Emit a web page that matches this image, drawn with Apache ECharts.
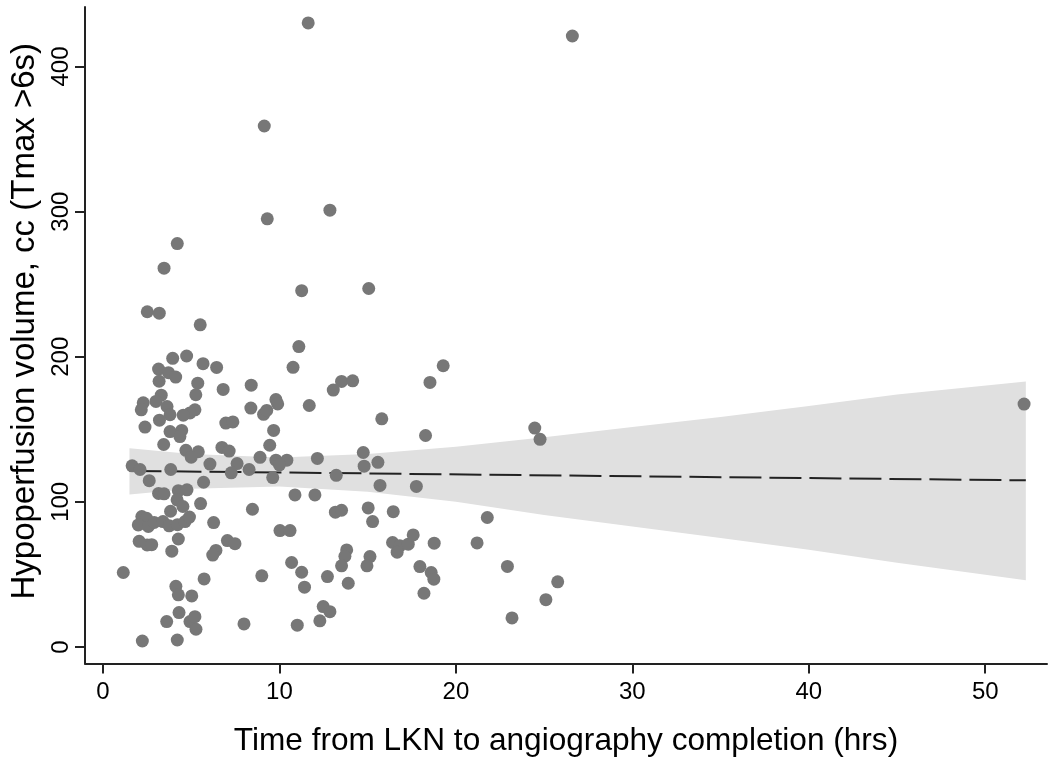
<!DOCTYPE html>
<html>
<head>
<meta charset="utf-8">
<script src="https://cdn.jsdelivr.net/npm/echarts@6/dist/echarts.min.js"></script>
<style>
  html, body { margin: 0; padding: 0; background: #fff; }
  #chart { width: 1050px; height: 765px; }
</style>
</head>
<body>
<div id="chart"></div>
<script>
// Scatter points: time from LKN (hrs) and hypoperfusion volume (cc)
const timeHrs = [
  11.63, 26.6, 9.14, 9.31, 12.86, 4.21, 3.46, 2.51, 3.19, 5.51,
  11.26, 15.06, 11.1, 10.77, 19.28, 13.52, 14.15, 13.05, 18.53, 3.15,
  3.71, 4.12, 3.95, 4.74, 5.67, 6.44, 3.18, 5.37, 6.81, 8.4,
  5.26, 3.3, 3.0, 2.28, 2.17, 3.63, 3.8, 5.21, 4.93, 4.55,
  3.2, 2.38, 3.8, 4.46, 4.36, 6.96, 7.36, 9.8, 9.9, 11.69,
  8.38, 9.1, 9.28, 9.67, 15.8, 18.28, 24.47, 24.77, 3.44, 9.45,
  6.74, 7.15, 4.7, 5.4, 5.0, 14.75, 8.9, 9.8, 10.42, 10.0,
  12.15, 14.8, 15.58, 1.65, 2.1, 3.84, 6.06, 7.6, 7.27, 8.28,
  9.62, 13.22, 15.7, 17.76, 2.62, 5.7, 3.15, 3.46, 4.27, 4.76,
  4.2, 4.53, 10.88, 12.01, 5.53, 8.47, 3.83, 13.17, 13.52, 15.03,
  16.45, 15.28, 2.2, 2.47, 2.0, 2.57, 2.9, 3.4, 3.75, 4.22,
  4.65, 4.9, 6.27, 10.03, 10.6, 2.05, 2.5, 2.76, 4.27, 3.9,
  6.4, 6.22, 7.05, 7.48, 13.81, 13.71, 13.52, 15.13, 14.96, 10.69,
  11.26, 11.42, 12.72, 13.9, 9.0, 1.15, 5.73, 4.13, 4.27, 5.03,
  4.31, 3.61, 4.93, 5.21, 5.27, 7.99, 11.01, 12.29, 12.48, 12.86,
  2.23, 4.21, 16.41, 16.82, 17.3, 17.58, 16.67, 18.77, 21.2, 21.78,
  22.92, 23.18, 25.1, 25.77, 17.96, 18.6, 18.75, 18.19, 52.2
];
const volumeCc = [
  430, 421, 359, 295, 301, 278, 261, 231, 230, 222,
  245.5, 247, 207, 192.7, 193.8, 183, 183.4, 177, 182.3, 191.5,
  189, 186, 198.9, 200.5, 195.2, 192.6, 183.1, 181.8, 177.5, 180.4,
  173.8, 173.5, 169.2, 168.3, 163.4, 165.7, 160, 163.4, 161.3, 159.7,
  156.3, 151.5, 148.4, 149.2, 145, 154.3, 155.1, 170.5, 167.5, 166.4,
  164.6, 160.3, 163, 149.2, 157.2, 145.7, 150.8, 143.1, 139.5, 139,
  137.5, 135, 135.5, 134.5, 130.8, 134, 130.7, 128.7, 128.7, 125.5,
  129.9, 124.6, 127.2, 124.8, 122.3, 122.3, 126, 126.4, 120, 122.3,
  116.7, 118.3, 111.3, 110.6, 114.6, 113.5, 105.8, 105.5, 107.7, 108.3,
  101.4, 96.8, 104.8, 104.8, 98.8, 94.9, 93.5, 92.9, 94.2, 95.8,
  93.2, 86.4, 89.9, 88.7, 84.1, 83, 85.8, 86.4, 83.5, 84.3,
  86.4, 89.5, 85.7, 80.2, 80.2, 72.8, 70.3, 70.5, 74.4, 66,
  66.5, 63.3, 73.3, 71.2, 66.9, 62.5, 55.9, 62.3, 55.9, 58.2,
  51.5, 41.2, 48.5, 43.9, 49, 51.3, 46.9, 41.8, 35.9, 35.2,
  23.7, 17.5, 17.5, 20.9, 12.2, 15.9, 15, 18, 27.8, 24.3,
  4.1, 4.8, 72, 69.7, 70.8, 77.2, 65.3, 71.5, 71.7, 89.2,
  55.5, 20, 32.6, 44.9, 55.4, 51.3, 46.7, 37, 167.4
];

// Linear fit (endpoints of the fitted line)
const fitX = [1.5, 52.3];
const fitY = [121.3, 114.8];

// 95% CI band
const bandX  = [1.5, 5, 10, 15, 20, 25, 30, 35, 40, 45, 52.3];
const bandLo = [105, 109, 110.5, 107, 100, 91, 83, 75, 67, 58, 46];
const bandHi = [137, 133, 130.5, 133, 138, 144.5, 151.5, 158.5, 166, 174, 183];

// Tick labels
const xTicks = [0, 10, 20, 30, 40, 50];
const yTicks = [0, 100, 200, 300, 400];

const FONT = "'Liberation Sans', Arial, Helvetica, sans-serif";

const chart = echarts.init(document.getElementById('chart'), null, { renderer: 'canvas' });

const option = {
  animation: false,
  backgroundColor: '#ffffff',
  grid: { left: 85, right: 3, top: 7, bottom: 101.5, containLabel: false },
  xAxis: {
    type: 'value',
    min: -1.02,
    max: 53.5,
    name: 'Time from LKN to angiography completion (hrs)',
    nameLocation: 'middle',
    nameGap: 62,
    nameTextStyle: { fontFamily: FONT, fontSize: 31.6, color: '#000' },
    axisLine: { show: true, onZero: false, lineStyle: { color: '#222', width: 2 } },
    axisTick: { show: true, length: 10, customValues: xTicks, lineStyle: { color: '#222', width: 2 } },
    axisLabel: { customValues: xTicks, fontFamily: FONT, fontSize: 24, color: '#000', margin: 17 },
    splitLine: { show: false }
  },
  yAxis: {
    type: 'value',
    min: -11.4,
    max: 441,
    name: 'Hypoperfusion volume, cc (Tmax >6s)',
    nameLocation: 'middle',
    nameRotate: 90,
    nameGap: 41,
    nameTextStyle: { fontFamily: FONT, fontSize: 33, color: '#000', padding: [0, 0, 0, 28] },
    axisLine: { show: true, onZero: false, lineStyle: { color: '#222', width: 2 } },
    axisTick: { show: true, length: 10, customValues: yTicks, lineStyle: { color: '#222', width: 2 } },
    axisLabel: { customValues: yTicks, rotate: 90, fontFamily: FONT, fontSize: 24, color: '#000', margin: 12 },
    splitLine: { show: false }
  },
  series: [
    {
      type: 'custom',
      silent: true,
      z: 1,
      data: [[bandX[0], bandLo[0]]],
      renderItem: function (params, api) {
        const pts = [];
        for (let i = 0; i < bandX.length; i++) pts.push(api.coord([bandX[i], bandHi[i]]));
        for (let i = bandX.length - 1; i >= 0; i--) pts.push(api.coord([bandX[i], bandLo[i]]));
        return { type: 'polygon', shape: { points: pts }, style: { fill: '#e0e0e0' } };
      }
    },
    {
      type: 'line',
      z: 2,
      silent: true,
      symbol: 'none',
      data: fitX.map((x, i) => [x, fitY[i]]),
      lineStyle: { color: '#222', width: 2, type: [32, 8] }
    },
    {
      type: 'scatter',
      z: 3,
      symbol: 'circle',
      symbolSize: 13,
      data: timeHrs.map((x, i) => [x, volumeCc[i]]),
      itemStyle: { color: '#777777', opacity: 1 }
    }
  ]
};

chart.setOption(option);
</script>
</body>
</html>
